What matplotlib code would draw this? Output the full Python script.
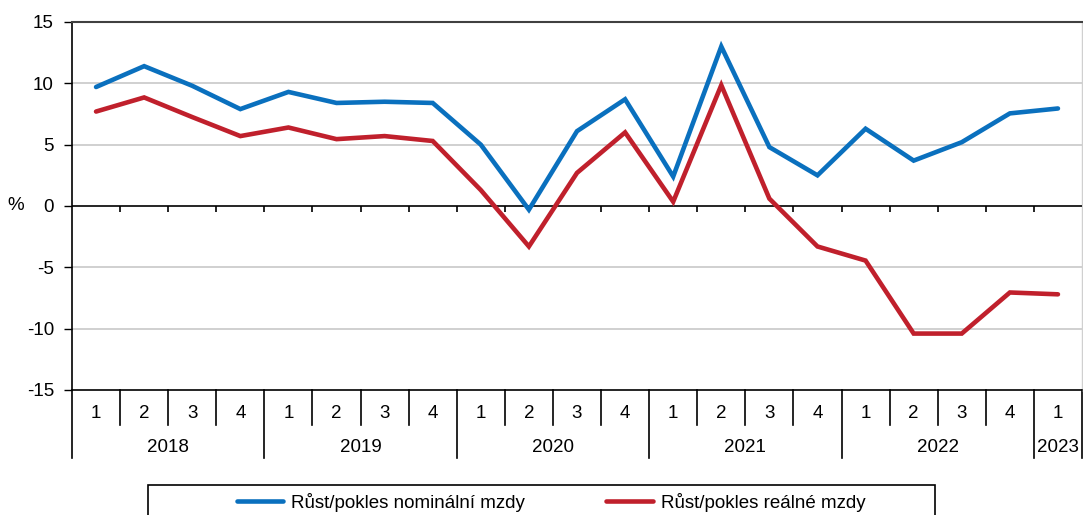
import matplotlib.pyplot as plt
from matplotlib.patches import Rectangle

plt.rcParams['font.family'] = ['Liberation Sans', 'DejaVu Sans']
plt.rcParams['axes.unicode_minus'] = False

years = ["2018", "2019", "2020", "2021", "2022", "2023"]
quarters_per_year = [4, 4, 4, 4, 4, 1]
quarter_labels = ["1", "2", "3", "4"] * 5 + ["1"]

nominal = [9.7, 11.4, 9.8, 7.9, 9.3, 8.4, 8.5, 8.4,
           5.0, -0.3, 6.1, 8.7, 2.4, 13.0, 4.8, 2.5,
           6.3, 3.7, 5.2, 7.55, 7.95]
real = [7.7, 8.85, 7.25, 5.7, 6.4, 5.45, 5.7, 5.3,
        1.3, -3.3, 2.7, 6.0, 0.35, 9.85, 0.6, -3.3,
        -4.45, -10.4, -10.4, -7.05, -7.2]

FS = 13.5
W, H = 1083, 515
fig = plt.figure(figsize=(W / 100, H / 100), dpi=100)
ax = fig.add_axes([72 / W, 1 - 390 / H, 1010 / W, 368 / H])

n = len(nominal)
x = [i + 0.5 for i in range(n)]

ax.plot(x, nominal, color="#0a70be", lw=3.3, solid_capstyle="round",
        solid_joinstyle="miter", label="Růst/pokles nominální mzdy", zorder=4)
ax.plot(x, real, color="#c0202c", lw=3.3, solid_capstyle="round",
        solid_joinstyle="miter", label="Růst/pokles reálné mzdy", zorder=4)

ax.set_xlim(0, n)
ax.set_ylim(-15, 15)
ax.set_yticks(range(-15, 16, 5))
ax.tick_params(axis="y", direction="out", length=6, width=1, labelsize=FS,
               colors="black", pad=7)
ax.set_xticks([])

for v in [-10, -5, 5, 10]:
    ax.axhline(v, color="#c8c8c8", lw=1.2, zorder=1)
ax.axhline(0, color="black", lw=1.2, zorder=3)

for s in ["left", "bottom"]:
    ax.spines[s].set_color("black")
    ax.spines[s].set_linewidth(1.2)
ax.spines["top"].set_color("#404040")
ax.spines["top"].set_linewidth(1.5)
ax.spines["right"].set_color("#d0d0d0")
ax.spines["right"].set_linewidth(1)

# small ticks on the zero line
ax.vlines(range(1, n), -0.5, 0, color="black", lw=1.2, zorder=3)

# category axis below the plot
tr = ax.get_xaxis_transform()
year_bounds = [0]
for q in quarters_per_year:
    year_bounds.append(year_bounds[-1] + q)
for b in range(0, n + 1):
    if b in year_bounds:
        ax.plot([b, b], [0, -0.185], transform=tr, color="black", lw=1.2, clip_on=False)
    else:
        ax.plot([b, b], [0, -0.095], transform=tr, color="black", lw=1.2, clip_on=False)

for i, lab in enumerate(quarter_labels):
    ax.text(i + 0.5, -0.063, lab, transform=tr, ha="center", va="center", fontsize=FS)

for j, yr in enumerate(years):
    mid = (year_bounds[j] + year_bounds[j + 1]) / 2
    ax.text(mid, -0.156, yr, transform=tr, ha="center", va="center", fontsize=FS)

fig.text(16 / W, 1 - 205 / H, "%", ha="center", va="center", fontsize=FS)

# legend
fig.patches.append(Rectangle((148 / W, -0.05), 787 / W, 1 - 485 / H + 0.05,
                             transform=fig.transFigure, fill=False,
                             edgecolor="black", lw=1.2))
fig.legend(loc="center", bbox_to_anchor=(551 / W, 1 - 502 / H), ncol=2,
           frameon=False, fontsize=FS, handlelength=2.5, handletextpad=0.43,
           columnspacing=4.3)

fig.savefig("out.png", dpi=100)
